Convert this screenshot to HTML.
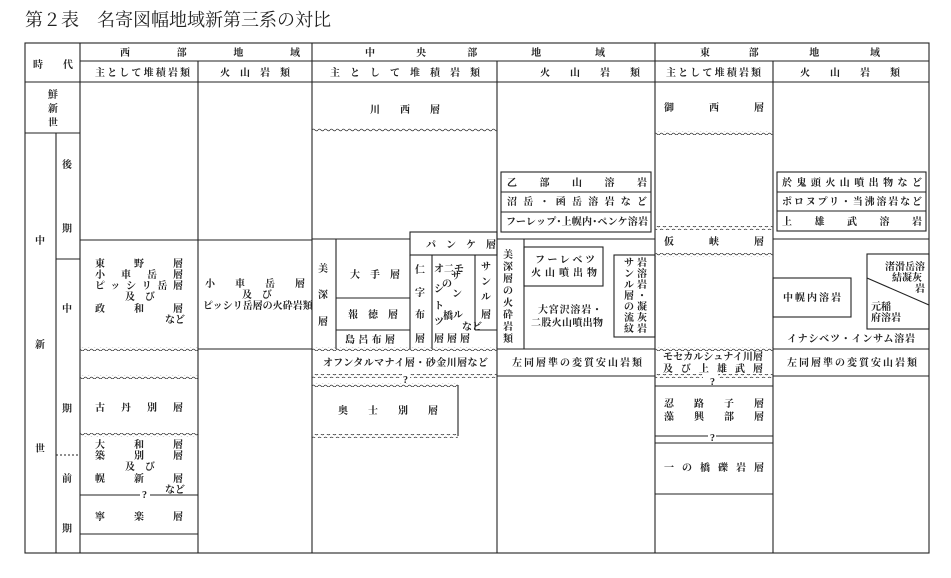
<!DOCTYPE html>
<html><head><meta charset="utf-8"><style>
body{margin:0;background:#fff;}
svg{display:block}
text{font-family:"Liberation Serif","Noto Serif CJK SC","Noto Sans CJK JP",serif;font-size:10px;fill:#222;font-weight:bold}
.t{font-size:18px;font-weight:normal}
</style></head><body>
<svg width="951" height="578" viewBox="0 0 951 578" xmlns="http://www.w3.org/2000/svg">
<defs><pattern id="w" width="6" height="4" patternUnits="userSpaceOnUse"><path d="M0 2 Q1.5 0.3 3 2 T6 2" fill="none" stroke="#333" stroke-width="0.8"/></pattern></defs>
<text x="25" y="26" class="t">第２表　名寄図幅地域新第三系の対比</text>
<g stroke="#222" stroke-width="1.1" fill="none">
<rect x="25" y="43" width="904" height="510"/>
<line x1="80" y1="61" x2="929" y2="61"/>
<line x1="25" y1="82" x2="929" y2="82"/>
<line x1="80" y1="43" x2="80" y2="553"/>
<line x1="198" y1="61" x2="198" y2="553"/>
<line x1="312" y1="43" x2="312" y2="553"/>
<line x1="497" y1="61" x2="497" y2="553"/>
<line x1="655" y1="43" x2="655" y2="553"/>
<line x1="773" y1="61" x2="773" y2="553"/>
<line x1="25" y1="133" x2="80" y2="133"/>
<line x1="56" y1="133" x2="56" y2="553"/>
<line x1="56" y1="259" x2="80" y2="259"/>
<line x1="56" y1="455" x2="80" y2="455" stroke-dasharray="2,2"/>
<line x1="80" y1="240" x2="312" y2="240"/>
<line x1="198" y1="349" x2="312" y2="349"/>
<line x1="80" y1="495" x2="140" y2="495"/><line x1="150" y1="495" x2="198" y2="495"/>
<line x1="80" y1="534" x2="198" y2="534"/>
<line x1="312" y1="239" x2="410" y2="239"/>
<rect x="410" y="232" width="87" height="23"/>
<line x1="336" y1="239" x2="336" y2="349"/>
<line x1="336" y1="298" x2="410" y2="298"/>
<line x1="336" y1="330" x2="410" y2="330"/>
<line x1="410" y1="255" x2="410" y2="349"/>
<line x1="432" y1="255" x2="432" y2="349"/>
<line x1="475" y1="255" x2="475" y2="330"/>
<line x1="475" y1="330" x2="497" y2="330"/>
<line x1="458" y1="385" x2="458" y2="436"/>
<rect x="501" y="172" width="150" height="60"/>
<line x1="501" y1="192" x2="651" y2="192"/><line x1="501" y1="212" x2="651" y2="212"/>
<line x1="497" y1="239" x2="655" y2="239"/>
<line x1="524" y1="239" x2="524" y2="349"/>
<rect x="524" y="247" width="79" height="39"/>
<rect x="614" y="255" width="41" height="82"/>
<line x1="497" y1="349" x2="655" y2="349"/>
<line x1="497" y1="376" x2="655" y2="376"/>
<rect x="777" y="172" width="149" height="59"/>
<line x1="777" y1="192" x2="926" y2="192"/><line x1="777" y1="211" x2="926" y2="211"/>
<line x1="773" y1="239" x2="929" y2="239"/>
<rect x="773" y="278" width="78" height="39"/>
<rect x="867" y="254" width="62" height="75"/>
<line x1="867" y1="278" x2="929" y2="305"/>
<line x1="773" y1="349" x2="929" y2="349"/>
<line x1="773" y1="376" x2="929" y2="376"/>
<line x1="655" y1="386" x2="773" y2="386"/>
<line x1="655" y1="436" x2="708" y2="436"/><line x1="716" y1="436" x2="773" y2="436"/>
<line x1="655" y1="443" x2="773" y2="443"/>
<line x1="655" y1="494" x2="773" y2="494"/>
</g>
<g fill="url(#w)">
<rect x="80" y="347" width="118" height="4"/>
<rect x="80" y="375" width="118" height="4"/>
<rect x="80" y="433" width="118" height="4"/>
<rect x="312" y="128" width="185" height="4"/>
<rect x="312" y="347" width="185" height="4"/>
<rect x="312" y="374" width="90" height="4"/><rect x="410" y="374" width="87" height="4"/>
<rect x="312" y="383" width="146" height="4"/>
<rect x="312" y="434" width="146" height="4"/>
<rect x="655" y="131" width="118" height="4"/>
<rect x="655" y="226" width="118" height="4"/>
<rect x="655" y="253" width="118" height="4"/>
<rect x="655" y="347" width="118" height="4"/>
<rect x="655" y="374" width="48" height="4"/><rect x="718" y="374" width="55" height="4"/>
</g>
<text x="33" y="68">時　　代</text>
<text x="120" y="56" textLength="180">西　　　　部　　　　地　　　　域</text>
<text x="95" y="76" textLength="95">主として堆積岩類</text>
<text x="220" y="76">火　山　岩　類</text>
<text x="365" y="56" textLength="240">中　　　央　　　部　　　　地　　　　域</text>
<text x="330" y="76">主　と　し　て　堆　積　岩　類</text>
<text x="540" y="76">火　　山　　岩　　類</text>
<text x="700" y="56" textLength="180">東　　　部　　　　地　　　　域</text>
<text x="666" y="76" textLength="95">主として堆積岩類</text>
<text x="800" y="76">火　　山　　岩　　類</text>
<text x="48" y="98">鮮</text><text x="48" y="112">新</text><text x="48" y="126">世</text>
<text x="62" y="168">後</text><text x="62" y="232">期</text><text x="62" y="312">中</text>
<text x="62" y="412">期</text><text x="62" y="482">前</text><text x="62" y="532">期</text>
<text x="35" y="244">中</text><text x="35" y="348">新</text><text x="35" y="452">世</text>
<text x="95" y="267" textLength="88">東　　野　　層</text>
<text x="95" y="278" textLength="88">小　車　岳　層</text>
<text x="95" y="289" textLength="88">ピッシリ岳層</text>
<text x="125" y="300">及　び</text>
<text x="95" y="312" textLength="88">政　　和　　層</text>
<text x="165" y="323">など</text>
<text x="205" y="287" textLength="100">小　車　岳　層</text>
<text x="242" y="298">及　び</text>
<text x="203" y="309">ピッシリ岳層の火砕岩類</text>
<text x="95" y="411" textLength="88">古　丹　別　層</text>
<text x="95" y="448" textLength="88">大　和　層</text>
<text x="95" y="459" textLength="88">築　別　層</text>
<text x="125" y="470">及　び</text>
<text x="95" y="482" textLength="88">幌　新　層</text>
<text x="165" y="493">など</text>
<text x="142" y="498">?</text>
<text x="95" y="520" textLength="88">寧　　楽　　層</text>
<text x="370" y="113">川　　西　　層</text>
<text x="426" y="248">パ　ン　ケ　層</text>
<text x="318" y="272">美</text><text x="318" y="298">深</text><text x="318" y="325">層</text>
<text x="350" y="278">大　手　層</text>
<text x="348" y="318">報　徳　層</text>
<text x="345" y="343" textLength="50">島呂布層</text>
<text x="415" y="273">仁</text><text x="415" y="296">字</text><text x="415" y="318">布</text><text x="415" y="342">層</text>
<text x="434" y="272">オ二モ</text>
<text x="434" y="292">シ</text><text x="442" y="287">の</text><text x="451" y="279">サ</text>
<text x="434" y="309">ト</text><text x="452" y="297">ン</text>
<text x="434" y="325">ツ</text><text x="443" y="319">橋</text><text x="453" y="318">ル</text><text x="462" y="330">など</text>
<text x="434" y="342" textLength="36">層層層</text>
<text x="481" y="270">サ</text><text x="481" y="285">ン</text><text x="481" y="300">ル</text><text x="481" y="318">層</text>
<text x="323" y="366" textLength="165">オフンタルマナイ層・砂金川層など</text>
<text x="403" y="383">?</text>
<text x="338" y="414">奥　　士　　別　　層</text>
<text x="507" y="186" textLength="140">乙　部　山　溶　岩</text>
<text x="507" y="205" textLength="140">沼岳・函岳溶岩など</text>
<text x="506" y="225" textLength="142">フーレップ･上幌内･ペンケ溶岩</text>
<text x="503" y="258">美</text><text x="503" y="270">深</text><text x="503" y="282">層</text><text x="503" y="294">の</text><text x="503" y="306">火</text><text x="503" y="318">砕</text><text x="503" y="330">岩</text><text x="503" y="342">類</text>
<text x="535" y="263" textLength="60">フーレベツ</text>
<text x="531" y="276" textLength="66">火山噴出物</text>
<text x="538" y="313" textLength="64">大宮沢溶岩・</text>
<text x="531" y="326" textLength="72">二股火山噴出物</text>
<text x="624" y="266">サ</text><text x="624" y="277">ン</text><text x="624" y="288">ル</text><text x="624" y="299">層</text><text x="624" y="310">の</text><text x="624" y="321">流</text><text x="624" y="332">紋</text>
<text x="637" y="266">岩</text><text x="637" y="277">溶</text><text x="637" y="288">岩</text><text x="637" y="299">・</text><text x="637" y="310">凝</text><text x="637" y="321">灰</text><text x="637" y="332">岩</text>
<text x="512" y="366" textLength="130">左同層準の変質安山岩類</text>
<text x="664" y="111" textLength="100">御　　西　　層</text>
<text x="664" y="245" textLength="100">仮　　峡　　層</text>
<text x="663" y="360" textLength="100">モセカルシュナイ川層</text>
<text x="663" y="372" textLength="100">及び上雄武層</text>
<text x="710" y="385">?</text>
<text x="664" y="407" textLength="100">忍　路　子　層</text>
<text x="664" y="420" textLength="100">藻　興　部　層</text>
<text x="710" y="441">?</text>
<text x="664" y="471" textLength="100">一の橋礫岩層</text>
<text x="782" y="186" textLength="140">於鬼頭火山噴出物など</text>
<text x="782" y="205" textLength="140">ポロヌプリ・当沸溶岩など</text>
<text x="782" y="225" textLength="140">上　雄　武　溶　岩</text>
<text x="783" y="301" textLength="58">中幌内溶岩</text>
<text x="885" y="270">渚滑岳溶</text>
<text x="892" y="281">結凝灰</text>
<text x="915" y="292">岩</text>
<text x="871" y="310">元稲</text>
<text x="871" y="321">府溶岩</text>
<text x="787" y="342" textLength="128">イナシベツ・インサム溶岩</text>
<text x="787" y="366" textLength="130">左同層準の変質安山岩類</text>
</svg>
</body></html>
